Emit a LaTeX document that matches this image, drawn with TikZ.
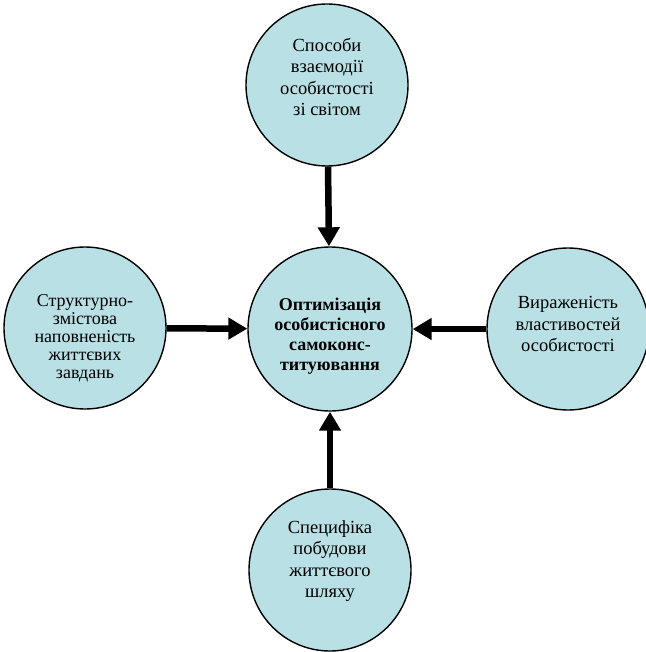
\documentclass[tikz,border=0pt]{standalone}
\usepackage{fontspec}
\setmainfont{Liberation Serif}
\usetikzlibrary{arrows.meta}
\definecolor{circfill}{RGB}{185,224,228}
\newcommand{\ctext}[2]{\raisebox{#1}[\height][\depth]{\begin{tabular}{@{}c@{}}#2\end{tabular}}}
\tikzset{
  bubble/.style={circle, draw=black, line width=1.4pt, fill=circfill, minimum size=162pt, inner sep=0pt,
    align=center, font=\fontsize{18.5pt}{21.5pt}\selectfont},
  hub/.style={bubble, minimum size=164pt, font=\fontsize{18pt}{20pt}\selectfont\bfseries},
  arr/.style={line width=6.5pt, -{Triangle[length=19pt,width=21pt]}}
}
\begin{document}
\begin{tikzpicture}[x=1pt,y=-1pt]
\useasboundingbox (0,0) rectangle (645,652);
\node[hub] (ctr) at (330,329) {\ctext{-7pt}{Оптимізація\\особистісного\\самоконс-\\титуювання}};
\node[bubble] (top) at (327,85) {\ctext{6pt}{Способи\\взаємодії\\особистості\\зі світом}};
\node[bubble, font=\fontsize{18pt}{18pt}\selectfont] (lft) at (85,328) {\ctext{-11pt}{Структурно-\\змістова\\наповненість\\життєвих\\завдань}};
\node[bubble] (rgt) at (568,329) {\ctext{3pt}{Вираженість\\властивостей\\особистості}};
\node[bubble] (bot) at (330,570) {\ctext{9pt}{Специфіка\\побудови\\життєвого\\шляху}};
\draw[arr] (top) -- (ctr);
\draw[arr] (lft) -- (ctr);
\draw[arr] (rgt) -- (ctr);
\draw[arr] (bot) -- (ctr);
\end{tikzpicture}
\end{document}
